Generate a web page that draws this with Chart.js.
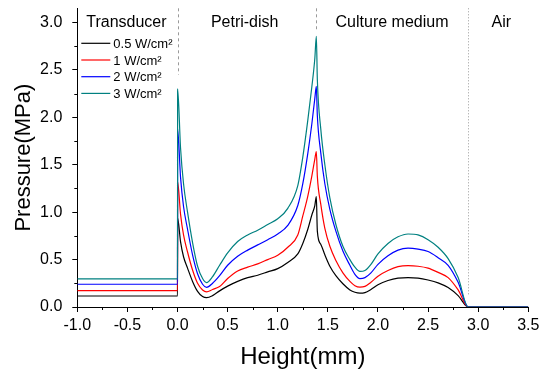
<!DOCTYPE html>
<html><head><meta charset="utf-8">
<script src="https://cdn.jsdelivr.net/npm/chart.js@4.4.1/dist/chart.umd.min.js"></script>
<style>html,body{margin:0;padding:0;background:#fff}#wrap{width:543px;height:373px}</style>
</head><body><div id="wrap"><canvas id="c" width="543" height="373"></canvas></div>
<script>
// ---- data ----
const heights = [-1.0, 0.0, 0.001, 0.03, 0.06, 0.1, 0.15, 0.2, 0.25, 0.29, 0.35, 0.42, 0.5, 0.6, 0.7, 0.8, 0.9, 1.0, 1.1, 1.2, 1.25, 1.3, 1.34, 1.37, 1.385, 1.395, 1.43, 1.47, 1.52, 1.58, 1.65, 1.72, 1.77, 1.82, 1.87, 1.93, 2.0, 2.1, 2.2, 2.3, 2.4, 2.5, 2.6, 2.7, 2.8, 2.9, 3.5];
const p05W = [0.116, 0.116, 0.937, 0.69, 0.53, 0.41, 0.27, 0.165, 0.11, 0.098, 0.12, 0.17, 0.22, 0.27, 0.31, 0.335, 0.37, 0.405, 0.47, 0.56, 0.67, 0.82, 0.97, 1.07, 1.165, 0.80, 0.66, 0.55, 0.43, 0.33, 0.245, 0.18, 0.155, 0.146, 0.152, 0.185, 0.235, 0.28, 0.305, 0.31, 0.305, 0.285, 0.255, 0.205, 0.12, 0, 0];
const p1W  = [0.172, 0.172, 1.32, 0.98, 0.76, 0.58, 0.39, 0.25, 0.18, 0.16, 0.185, 0.215, 0.30, 0.38, 0.42, 0.455, 0.50, 0.545, 0.63, 0.76, 0.96, 1.17, 1.38, 1.56, 1.64, 1.38, 1.08, 0.83, 0.64, 0.49, 0.36, 0.27, 0.225, 0.21, 0.218, 0.26, 0.325, 0.385, 0.425, 0.436, 0.43, 0.41, 0.365, 0.31, 0.18, 0, 0];
const p2W  = [0.24, 0.24, 1.877, 1.37, 1.06, 0.82, 0.55, 0.35, 0.24, 0.208, 0.25, 0.33, 0.44, 0.535, 0.60, 0.655, 0.71, 0.77, 0.86, 1.07, 1.30, 1.62, 1.93, 2.20, 2.327, 2.02, 1.62, 1.30, 1.03, 0.80, 0.59, 0.44, 0.345, 0.30, 0.31, 0.36, 0.45, 0.54, 0.60, 0.62, 0.61, 0.585, 0.52, 0.44, 0.26, 0, 0];
const p3W  = [0.296, 0.296, 2.30, 1.68, 1.30, 1.00, 0.68, 0.43, 0.30, 0.257, 0.32, 0.44, 0.57, 0.69, 0.76, 0.81, 0.87, 0.93, 1.04, 1.28, 1.58, 1.97, 2.32, 2.62, 2.855, 2.40, 1.87, 1.50, 1.15, 0.87, 0.64, 0.50, 0.42, 0.375, 0.385, 0.45, 0.56, 0.67, 0.74, 0.77, 0.76, 0.71, 0.63, 0.51, 0.31, 0, 0];
const seriesLabels = ['0.5 W/cm²', '1 W/cm²', '2 W/cm²', '3 W/cm²'];
const seriesColors = ['#000000', '#ff0000', '#0000ff', '#008080'];
const xTickValues = [-1.0, -0.5, 0.0, 0.5, 1.0, 1.5, 2.0, 2.5, 3.0, 3.5];
const yTickValues = [0.0, 0.5, 1.0, 1.5, 2.0, 2.5, 3.0];
const xMinorTicks = [-0.75, -0.25, 0.25, 0.75, 1.25, 1.75, 2.25, 2.75, 3.25];
const yMinorTicks = [0.25, 0.75, 1.25, 1.75, 2.25, 2.75];
const regionNames = ['Transducer', 'Petri-dish', 'Culture medium', 'Air'];
const regionCenters = [-0.51, 0.67, 2.14, 3.23];
const dividerX = [0, 1.385, 2.9];
const dividerEnd = [2.45, 2.93, 0.12];
const dividerDash = [[3, 3], [3, 3], [1, 2]];

const FONT = '"Liberation Sans", Arial, sans-serif';
Chart.defaults.font.family = FONT;
Chart.defaults.color = '#000';

const series = [p05W, p1W, p2W, p3W];
const datasets = series.map((arr, i) => ({
  label: seriesLabels[i],
  data: heights.map((h, k) => ({x: h, y: arr[k]})),
  borderColor: seriesColors[i],
  borderWidth: 1.2,
  pointRadius: 0,
  fill: false,
  cubicInterpolationMode: 'monotone',
  order: 4 - i
}));

const decor = {
  id: 'decor',
  beforeDatasetsDraw(chart) {
    const ctx = chart.ctx, xs = chart.scales.x, ys = chart.scales.y, a = chart.chartArea;
    ctx.save();
    ctx.strokeStyle = '#9a9a9a';
    ctx.lineWidth = 1;
    dividerX.forEach((dx, i) => {
      const px = Math.round(xs.getPixelForValue(dx)) + 0.5;
      ctx.setLineDash(dividerDash[i]);
      ctx.beginPath();
      ctx.moveTo(px, a.top);
      ctx.lineTo(px, ys.getPixelForValue(dividerEnd[i]));
      ctx.stroke();
    });
    ctx.restore();
  },
  afterDraw(chart) {
    const ctx = chart.ctx, xs = chart.scales.x, ys = chart.scales.y, a = chart.chartArea;
    ctx.save();
    // minor ticks
    ctx.strokeStyle = '#000';
    ctx.lineWidth = 1;
    ctx.beginPath();
    xMinorTicks.forEach(v => {
      const px = Math.round(xs.getPixelForValue(v)) + 0.5;
      ctx.moveTo(px, a.bottom); ctx.lineTo(px, a.bottom + 3);
    });
    yMinorTicks.forEach(v => {
      const py = Math.round(ys.getPixelForValue(v)) + 0.5;
      ctx.moveTo(a.left, py); ctx.lineTo(a.left - 3, py);
    });
    ctx.stroke();
    // region labels
    ctx.fillStyle = '#000';
    ctx.font = '16px ' + FONT;
    ctx.textAlign = 'center';
    ctx.textBaseline = 'alphabetic';
    regionNames.forEach((n, i) => {
      ctx.fillText(n, xs.getPixelForValue(regionCenters[i]), a.top + 19);
    });
    // legend
    ctx.font = '13px ' + FONT;
    ctx.textAlign = 'left';
    chart.data.datasets.forEach((ds, i) => {
      const y = a.top + 35 + i * 16.7;
      ctx.strokeStyle = ds.borderColor;
      ctx.lineWidth = 1.2;
      ctx.beginPath();
      ctx.moveTo(a.left + 4, y); ctx.lineTo(a.left + 33, y);
      ctx.stroke();
      ctx.fillStyle = '#000';
      ctx.fillText(ds.label, a.left + 36, y + 4.5);
    });
    ctx.restore();
  }
};

new Chart(document.getElementById('c'), {
  type: 'line',
  data: {datasets},
  options: {
    responsive: false,
    animation: false,
    devicePixelRatio: 1,
    layout: {padding: {top: 8.3, right: 14.7, left: 0, bottom: 0}},
    plugins: {legend: {display: false}, tooltip: {enabled: false}},
    scales: {
      x: {
        type: 'linear', min: -1.0, max: 3.5,
        afterFit(s) { s.height = 66; s.paddingLeft = 0; s.paddingRight = 0; s.paddingTop = 0; s.paddingBottom = 0; },
        afterBuildTicks(s) { s.ticks = xTickValues.map(v => ({value: v})); },
        ticks: {font: {size: 16}, color: '#000', padding: 4, maxRotation: 0, autoSkip: false,
          callback: v => Number(v).toFixed(1)},
        grid: {drawOnChartArea: false, drawTicks: true, tickLength: 5, tickColor: '#000', tickWidth: 1},
        border: {display: true, color: '#000', width: 1},
        title: {display: true, text: 'Height(mm)', font: {size: 24}, color: '#000', padding: {top: 0, bottom: 1}}
      },
      y: {
        type: 'linear', min: 0, max: 3.15,
        afterFit(s) { s.width = 77.3; s.paddingLeft = 0; s.paddingRight = 0; s.paddingTop = 0; s.paddingBottom = 0; },
        afterBuildTicks(s) { s.ticks = yTickValues.map(v => ({value: v})); },
        ticks: {font: {size: 16}, color: '#000', padding: 10, autoSkip: false,
          callback: v => Number(v).toFixed(1)},
        grid: {drawOnChartArea: false, drawTicks: true, tickLength: 5, tickColor: '#000', tickWidth: 1},
        border: {display: true, color: '#000', width: 1},
        title: {display: true, text: 'Pressure(MPa)', font: {size: 22}, color: '#000', padding: {top: 11, bottom: 0}}
      }
    }
  },
  plugins: [decor]
});
</script>
</body></html>
